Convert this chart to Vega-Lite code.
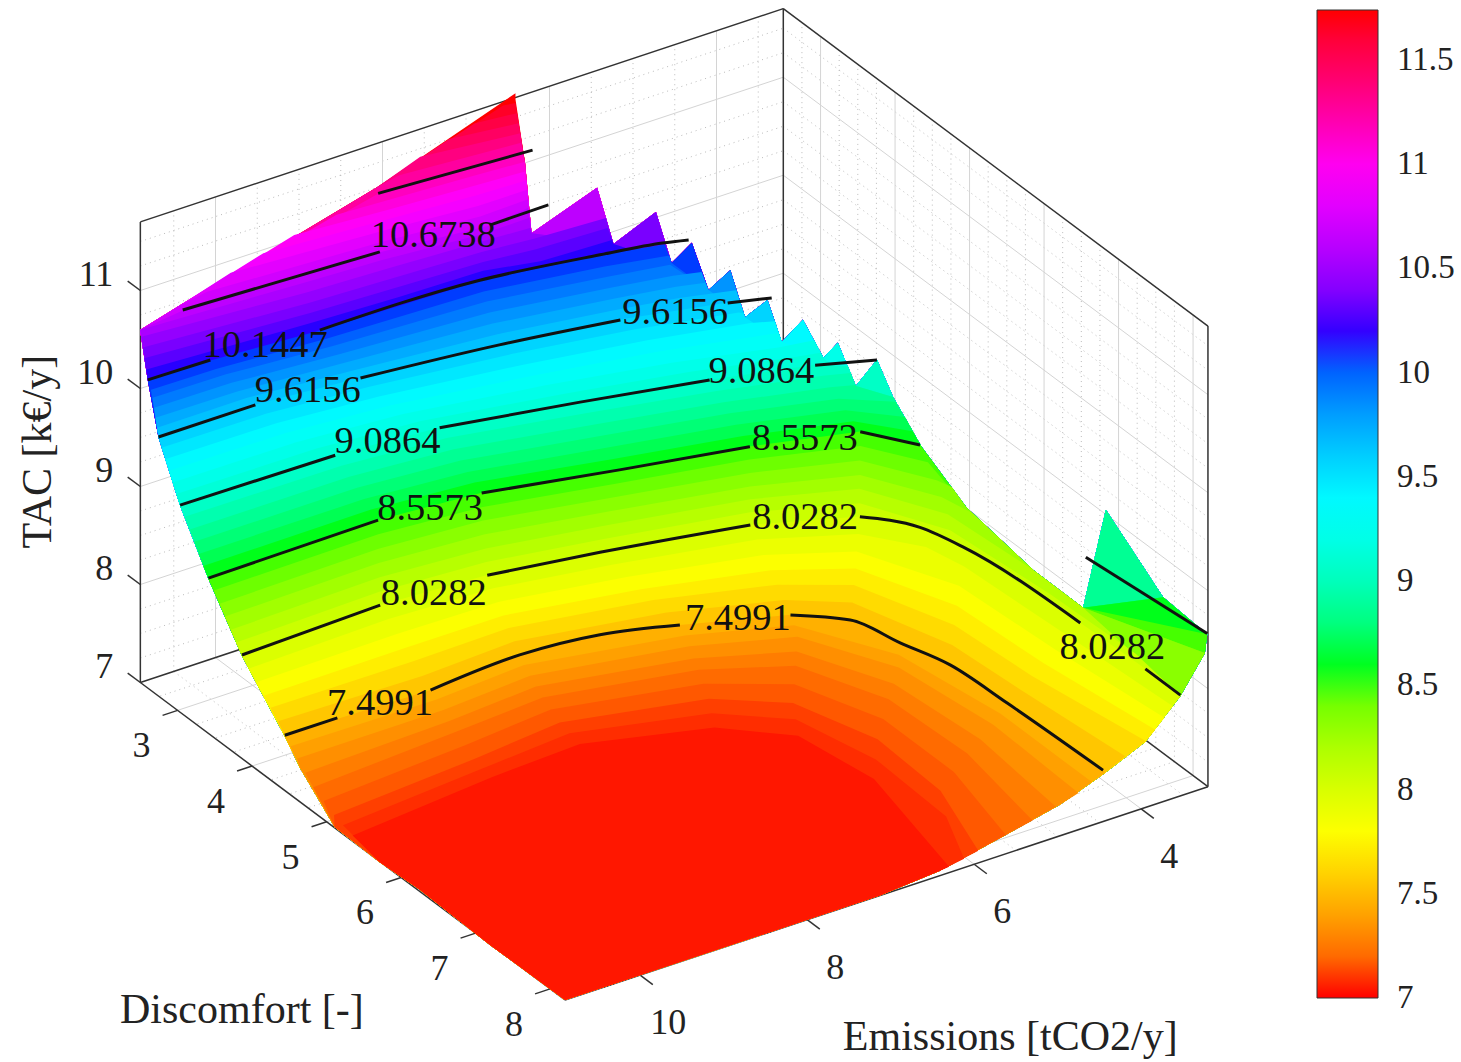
{"$schema":"https://vega.github.io/schema/vega-lite/v6.json","width":1461,"height":1062,"autosize":{"type":"none"},"padding":0,"background":"white","config":{"view":{"stroke":null}},
"datasets":{
"surface":[
{"L":11.8,"E":6.47,"D":2.57},
{"L":11.7,"E":6.6,"D":2.55},{"L":11.7,"E":6.47,"D":2.57},
{"L":11.6,"E":6.92,"D":2.53},{"L":11.6,"E":6.46,"D":2.58},
{"L":11.5,"E":7.2,"D":2.5},{"L":11.5,"E":6.45,"D":2.59},
{"L":11.4,"E":7.53,"D":2.48},{"L":11.4,"E":6.44,"D":2.6},
{"L":11.3,"E":7.8,"D":2.5},{"L":11.3,"E":6.43,"D":2.6},
{"L":11.2,"E":8.07,"D":2.52},{"L":11.2,"E":6.42,"D":2.61},
{"L":11.11,"E":8.55,"D":2.5},{"L":11.11,"E":8,"D":2.53},{"L":11.11,"E":7,"D":2.58},{"L":11.11,"E":6.4,"D":2.62},
{"L":11.02,"E":9.03,"D":2.47},{"L":11.02,"E":8,"D":2.54},{"L":11.02,"E":7,"D":2.6},{"L":11.02,"E":6.41,"D":2.63},
{"L":10.94,"E":9.4,"D":2.47},{"L":10.94,"E":8,"D":2.56},{"L":10.94,"E":7,"D":2.63},{"L":10.94,"E":6.41,"D":2.65},
{"L":10.85,"E":9.79,"D":2.47},{"L":10.85,"E":8,"D":2.58},{"L":10.85,"E":7,"D":2.66},{"L":10.85,"E":6.41,"D":2.66},
{"L":10.76,"E":10.1,"D":2.5},{"L":10.76,"E":8.05,"D":2.6},{"L":10.76,"E":7,"D":2.69},{"L":10.76,"E":6.41,"D":2.67},
{"L":10.67,"E":10.41,"D":2.52},{"L":10.67,"E":8.13,"D":2.61},{"L":10.67,"E":6.92,"D":2.73},{"L":10.67,"E":6.41,"D":2.67},
{"L":10.59,"E":10.6,"D":2.5},{"L":10.59,"E":9,"D":2.58},{"L":10.59,"E":8.1,"D":2.62},{"L":10.59,"E":7,"D":2.71},{"L":10.59,"E":6.42,"D":2.7},
{"L":10.5,"E":10.86,"D":2.47},{"L":10.5,"E":9,"D":2.6},{"L":10.5,"E":8,"D":2.64},{"L":10.5,"E":7,"D":2.69},{"L":10.5,"E":6.43,"D":2.72},
{"L":10.41,"E":10.87,"D":2.5},{"L":10.41,"E":9,"D":2.63},{"L":10.41,"E":8,"D":2.67},{"L":10.41,"E":7,"D":2.71},{"L":10.41,"E":6.42,"D":2.76},{"L":10.41,"E":5.59,"D":2.8},
{"L":10.32,"E":10.88,"D":2.53},{"L":10.32,"E":9,"D":2.65},{"L":10.32,"E":8,"D":2.69},{"L":10.32,"E":7,"D":2.73},{"L":10.32,"E":6.42,"D":2.79},{"L":10.32,"E":5.59,"D":2.82},
{"L":10.23,"E":10.89,"D":2.57},{"L":10.23,"E":9,"D":2.67},{"L":10.23,"E":8,"D":2.71},{"L":10.23,"E":7,"D":2.73},{"L":10.23,"E":6.42,"D":2.85},{"L":10.23,"E":5.59,"D":2.88},
{"L":10.14,"E":10.9,"D":2.6},{"L":10.14,"E":10.16,"D":2.61},{"L":10.14,"E":8.92,"D":2.69},{"L":10.14,"E":7.04,"D":2.73},{"L":10.14,"E":5.76,"D":2.91},{"L":10.14,"E":5.1,"D":3.04},
{"L":10.05,"E":10.88,"D":2.62},{"L":10.05,"E":10.1,"D":2.63},{"L":10.05,"E":8.85,"D":2.71},{"L":10.05,"E":7.03,"D":2.77},{"L":10.05,"E":5.75,"D":2.96},{"L":10.05,"E":5.09,"D":3.09},
{"L":9.97,"E":10.87,"D":2.63},{"L":9.97,"E":10,"D":2.64},{"L":9.97,"E":8.8,"D":2.73},{"L":9.97,"E":7.03,"D":2.81},{"L":9.97,"E":5.75,"D":3},{"L":9.97,"E":5.1,"D":3.11},
{"L":9.88,"E":10.87,"D":2.65},{"L":9.88,"E":9.95,"D":2.66},{"L":9.88,"E":8.72,"D":2.75},{"L":9.88,"E":7.03,"D":2.85},{"L":9.88,"E":5.75,"D":3.04},{"L":9.88,"E":5.1,"D":3.15},{"L":9.88,"E":4.82,"D":3.22},
{"L":9.79,"E":10.87,"D":2.67},{"L":9.79,"E":9.9,"D":2.68},{"L":9.79,"E":8.65,"D":2.77},{"L":9.79,"E":7.03,"D":2.89},{"L":9.79,"E":5.75,"D":3.08},{"L":9.79,"E":5.1,"D":3.19},{"L":9.79,"E":4.81,"D":3.26},
{"L":9.7,"E":10.87,"D":2.69},{"L":9.7,"E":9.8,"D":2.69},{"L":9.7,"E":8.6,"D":2.79},{"L":9.7,"E":7.02,"D":2.93},{"L":9.7,"E":5.75,"D":3.12},{"L":9.7,"E":5.1,"D":3.23},{"L":9.7,"E":4.54,"D":3.37},
{"L":9.62,"E":10.87,"D":2.71},{"L":9.62,"E":9.71,"D":2.71},{"L":9.62,"E":8.54,"D":2.81},{"L":9.62,"E":7.02,"D":2.97},{"L":9.62,"E":5.74,"D":3.16},{"L":9.62,"E":4.66,"D":3.39},{"L":9.62,"E":4.54,"D":3.42},
{"L":9.53,"E":10.87,"D":2.75},{"L":9.53,"E":9.63,"D":2.76},{"L":9.53,"E":8.47,"D":2.85},{"L":9.53,"E":6.93,"D":3.03},{"L":9.53,"E":5.64,"D":3.23},{"L":9.53,"E":4.58,"D":3.45},{"L":9.53,"E":4.55,"D":3.48},
{"L":9.44,"E":10.87,"D":2.8},{"L":9.44,"E":9.55,"D":2.81},{"L":9.44,"E":8.4,"D":2.9},{"L":9.44,"E":6.85,"D":3.1},{"L":9.44,"E":5.55,"D":3.31},{"L":9.44,"E":4.5,"D":3.52},{"L":9.44,"E":4.28,"D":3.6},
{"L":9.35,"E":10.87,"D":2.85},{"L":9.35,"E":9.47,"D":2.86},{"L":9.35,"E":8.3,"D":2.95},{"L":9.35,"E":6.77,"D":3.17},{"L":9.35,"E":5.47,"D":3.39},{"L":9.35,"E":4.42,"D":3.62},{"L":9.35,"E":4.28,"D":3.65},
{"L":9.26,"E":10.87,"D":2.9},{"L":9.26,"E":9.4,"D":2.91},{"L":9.26,"E":8.2,"D":3},{"L":9.26,"E":6.7,"D":3.23},{"L":9.26,"E":5.4,"D":3.47},{"L":9.26,"E":4.35,"D":3.72},{"L":9.26,"E":3.97,"D":3.78},
{"L":9.17,"E":10.87,"D":2.95},{"L":9.17,"E":9.2,"D":2.96},{"L":9.17,"E":8.03,"D":3.05},{"L":9.17,"E":6.55,"D":3.3},{"L":9.17,"E":5.25,"D":3.55},{"L":9.17,"E":4.2,"D":3.8},{"L":9.17,"E":3.96,"D":3.85},
{"L":9.09,"E":10.87,"D":3},{"L":9.09,"E":9.03,"D":3.02},{"L":9.09,"E":7.86,"D":3.11},{"L":9.09,"E":6.41,"D":3.37},{"L":9.09,"E":5.09,"D":3.63},{"L":9.09,"E":4.05,"D":3.88},{"L":9.09,"E":3.79,"D":4.03},
{"L":9,"E":10.87,"D":3.06},{"L":9,"E":9,"D":3.07},{"L":9,"E":7.82,"D":3.16},{"L":9,"E":6.38,"D":3.43},{"L":9,"E":5.06,"D":3.69},{"L":9,"E":4.01,"D":3.94},{"L":9,"E":3.75,"D":4.02},
{"L":8.91,"E":10.87,"D":3.13},{"L":8.91,"E":8.96,"D":3.13},{"L":8.91,"E":7.79,"D":3.22},{"L":8.91,"E":6.36,"D":3.49},{"L":8.91,"E":5.03,"D":3.75},{"L":8.91,"E":3.98,"D":4},{"L":8.91,"E":3.74,"D":4.08},
{"L":8.82,"E":10.87,"D":3.19},{"L":8.82,"E":8.92,"D":3.19},{"L":8.82,"E":7.76,"D":3.28},{"L":8.82,"E":6.33,"D":3.55},{"L":8.82,"E":5,"D":3.8},{"L":8.82,"E":3.94,"D":4.07},{"L":8.82,"E":3.5,"D":4.34},
{"L":8.73,"E":10.87,"D":3.25},{"L":8.73,"E":8.89,"D":3.25},{"L":8.73,"E":7.73,"D":3.34},{"L":8.73,"E":6.31,"D":3.61},{"L":8.73,"E":4.98,"D":3.86},{"L":8.73,"E":3.91,"D":4.13},{"L":8.73,"E":3.49,"D":4.46},
{"L":8.64,"E":10.87,"D":3.31},{"L":8.64,"E":8.85,"D":3.3},{"L":8.64,"E":7.69,"D":3.39},{"L":8.64,"E":6.28,"D":3.67},{"L":8.64,"E":4.95,"D":3.92},{"L":8.64,"E":3.87,"D":4.19},{"L":8.64,"E":3.49,"D":4.56},
{"L":8.56,"E":10.87,"D":3.38},{"L":8.56,"E":8.82,"D":3.36},{"L":8.56,"E":7.66,"D":3.45},{"L":8.56,"E":6.26,"D":3.73},{"L":8.56,"E":4.92,"D":3.98},{"L":8.56,"E":3.84,"D":4.25},{"L":8.56,"E":3.49,"D":4.66},
{"L":8.47,"E":10.87,"D":3.45},{"L":8.47,"E":8.88,"D":3.43},{"L":8.47,"E":7.71,"D":3.52},{"L":8.47,"E":6.35,"D":3.78},{"L":8.47,"E":4.97,"D":4.03},{"L":8.47,"E":3.9,"D":4.32},{"L":8.47,"E":3.52,"D":4.8},
{"L":8.38,"E":10.87,"D":3.53},{"L":8.38,"E":8.94,"D":3.5},{"L":8.38,"E":7.76,"D":3.58},{"L":8.38,"E":6.43,"D":3.83},{"L":8.38,"E":5.02,"D":4.09},{"L":8.38,"E":3.97,"D":4.39},{"L":8.38,"E":3.55,"D":4.95},{"L":8.38,"E":3.5,"D":5.1},
{"L":8.29,"E":10.87,"D":3.6},{"L":8.29,"E":9,"D":3.57},{"L":8.29,"E":7.8,"D":3.65},{"L":8.29,"E":6.51,"D":3.88},{"L":8.29,"E":5.07,"D":4.15},{"L":8.29,"E":4.03,"D":4.46},{"L":8.29,"E":3.6,"D":5.07},{"L":8.29,"E":3.52,"D":5.4},
{"L":8.2,"E":10.87,"D":3.68},{"L":8.2,"E":9.05,"D":3.64},{"L":8.2,"E":7.85,"D":3.72},{"L":8.2,"E":6.59,"D":3.93},{"L":8.2,"E":5.11,"D":4.2},{"L":8.2,"E":4.09,"D":4.52},{"L":8.2,"E":3.64,"D":5.2},{"L":8.2,"E":3.55,"D":6.25},
{"L":8.11,"E":10.87,"D":3.75},{"L":8.11,"E":9.11,"D":3.71},{"L":8.11,"E":7.9,"D":3.78},{"L":8.11,"E":6.67,"D":3.98},{"L":8.11,"E":5.16,"D":4.25},{"L":8.11,"E":4.15,"D":4.59},{"L":8.11,"E":3.7,"D":5.3},{"L":8.11,"E":3.58,"D":6.5},{"L":8.11,"E":3.53,"D":7.6},
{"L":8.03,"E":10.87,"D":3.83},{"L":8.03,"E":9.17,"D":3.78},{"L":8.03,"E":7.95,"D":3.85},{"L":8.03,"E":6.76,"D":4.03},{"L":8.03,"E":5.21,"D":4.31},{"L":8.03,"E":4.21,"D":4.66},{"L":8.03,"E":3.83,"D":5.04},{"L":8.03,"E":3.69,"D":5.46},{"L":8.03,"E":3.56,"D":6.89},{"L":8.03,"E":3.53,"D":7.73},{"L":8.03,"E":3.53,"D":8.2},
{"L":7.94,"E":10.87,"D":3.92},{"L":7.94,"E":9.16,"D":3.88},{"L":7.94,"E":7.95,"D":3.93},{"L":7.94,"E":6.69,"D":4.13},{"L":7.94,"E":5.22,"D":4.41},{"L":7.94,"E":4.32,"D":4.76},{"L":7.94,"E":3.9,"D":5.2},{"L":7.94,"E":3.8,"D":5.6},{"L":7.94,"E":3.71,"D":6.9},{"L":7.94,"E":3.62,"D":8.2},
{"L":7.85,"E":10.86,"D":4.01},{"L":7.85,"E":9.15,"D":3.99},{"L":7.85,"E":7.96,"D":4.01},{"L":7.85,"E":6.62,"D":4.23},{"L":7.85,"E":5.24,"D":4.52},{"L":7.85,"E":4.43,"D":4.86},{"L":7.85,"E":3.96,"D":5.71},{"L":7.85,"E":3.87,"D":6.9},{"L":7.85,"E":3.72,"D":8.2},
{"L":7.76,"E":10.85,"D":4.1},{"L":7.76,"E":9.15,"D":4.09},{"L":7.76,"E":7.97,"D":4.09},{"L":7.76,"E":6.54,"D":4.33},{"L":7.76,"E":5.25,"D":4.63},{"L":7.76,"E":4.53,"D":4.96},{"L":7.76,"E":4.1,"D":5.84},{"L":7.76,"E":4.02,"D":6.91},{"L":7.76,"E":3.83,"D":8.2},
{"L":7.68,"E":10.84,"D":4.18},{"L":7.68,"E":9.14,"D":4.19},{"L":7.68,"E":7.98,"D":4.17},{"L":7.68,"E":6.47,"D":4.42},{"L":7.68,"E":5.27,"D":4.74},{"L":7.68,"E":4.64,"D":5.06},{"L":7.68,"E":4.25,"D":5.97},{"L":7.68,"E":4.17,"D":6.92},{"L":7.68,"E":3.95,"D":8.2},
{"L":7.59,"E":10.83,"D":4.27},{"L":7.59,"E":9.13,"D":4.3},{"L":7.59,"E":7.98,"D":4.25},{"L":7.59,"E":6.4,"D":4.52},{"L":7.59,"E":5.28,"D":4.85},{"L":7.59,"E":4.75,"D":5.16},{"L":7.59,"E":4.39,"D":6.1},{"L":7.59,"E":4.32,"D":6.93},{"L":7.59,"E":4.19,"D":8.2},
{"L":7.5,"E":10.83,"D":4.36},{"L":7.5,"E":9.12,"D":4.4},{"L":7.5,"E":7.99,"D":4.33},{"L":7.5,"E":7.1,"D":4.41},{"L":7.5,"E":6.33,"D":4.62},{"L":7.5,"E":5.3,"D":4.95},{"L":7.5,"E":4.86,"D":5.26},{"L":7.5,"E":4.7,"D":5.75},{"L":7.5,"E":4.53,"D":6.23},{"L":7.5,"E":4.48,"D":6.94},{"L":7.5,"E":4.43,"D":8.2},
{"L":7.44,"E":10.84,"D":4.45},{"L":7.44,"E":9.11,"D":4.47},{"L":7.44,"E":8,"D":4.4},{"L":7.44,"E":6.34,"D":4.7},{"L":7.44,"E":5.32,"D":5.02},{"L":7.44,"E":4.78,"D":5.82},{"L":7.44,"E":4.59,"D":6.97},{"L":7.44,"E":4.59,"D":8.2},
{"L":7.375,"E":10.85,"D":4.55},{"L":7.375,"E":9.1,"D":4.55},{"L":7.375,"E":8,"D":4.48},{"L":7.375,"E":6.35,"D":4.77},{"L":7.375,"E":5.35,"D":5.1},{"L":7.375,"E":4.85,"D":5.9},{"L":7.375,"E":4.7,"D":7},{"L":7.375,"E":4.75,"D":8.2},
{"L":7.31,"E":10.87,"D":4.68},{"L":7.31,"E":9.1,"D":4.63},{"L":7.31,"E":8,"D":4.56},{"L":7.31,"E":6.38,"D":4.86},{"L":7.31,"E":5.45,"D":5.2},{"L":7.31,"E":5,"D":6},{"L":7.31,"E":4.9,"D":7.05},{"L":7.31,"E":5.02,"D":8.2},
{"L":7.25,"E":10.9,"D":4.82},{"L":7.25,"E":9.1,"D":4.72},{"L":7.25,"E":8,"D":4.65},{"L":7.25,"E":6.4,"D":4.95},{"L":7.25,"E":5.55,"D":5.3},{"L":7.25,"E":5.15,"D":6.1},{"L":7.25,"E":5.1,"D":7.1},{"L":7.25,"E":5.3,"D":8.2},
{"L":7.19,"E":10.9,"D":4.96},{"L":7.19,"E":9.1,"D":4.85},{"L":7.19,"E":8,"D":4.76},{"L":7.19,"E":6.45,"D":5.07},{"L":7.19,"E":5.7,"D":5.45},{"L":7.19,"E":5.35,"D":6.25},{"L":7.19,"E":5.35,"D":7.2},{"L":7.19,"E":5.62,"D":8.2},
{"L":7.125,"E":10.9,"D":5.1},{"L":7.125,"E":9.1,"D":4.98},{"L":7.125,"E":8,"D":4.88},{"L":7.125,"E":6.5,"D":5.2},{"L":7.125,"E":5.85,"D":5.6},{"L":7.125,"E":5.55,"D":6.4},{"L":7.125,"E":5.6,"D":7.3},{"L":7.125,"E":5.95,"D":8.2},
{"L":7.09,"E":10.9,"D":5.22},{"L":7.09,"E":9.1,"D":5.09},{"L":7.09,"E":8,"D":5.01},{"L":7.09,"E":6.6,"D":5.35},{"L":7.09,"E":5.97,"D":5.77},{"L":7.09,"E":5.75,"D":6.6},{"L":7.09,"E":5.8,"D":7.6},{"L":7.09,"E":6.12,"D":8.2},
{"L":7.06,"E":10.9,"D":5.35},{"L":7.06,"E":9.1,"D":5.2},{"L":7.06,"E":8,"D":5.15},{"L":7.06,"E":6.7,"D":5.5},{"L":7.06,"E":6.1,"D":5.95},{"L":7.06,"E":5.95,"D":6.8},{"L":7.06,"E":6.3,"D":8.2},
{"E":6.47,"D":2.57,"T":11.74},{"E":6.4,"D":2.62,"T":11.1},{"E":6.42,"D":2.73,"T":10.45},{"E":5.59,"D":2.68,"T":10.65},{"E":5.59,"D":2.9,"T":10.2},{"E":5.1,"D":2.92,"T":10.4},{"E":5.09,"D":3.12,"T":9.99},{"E":4.84,"D":3.11,"T":10.12},{"E":4.8,"D":3.29,"T":9.73},{"E":4.53,"D":3.28,"T":9.85},{"E":4.55,"D":3.5,"T":9.5},{"E":4.29,"D":3.51,"T":9.61},{"E":4.28,"D":3.69,"T":9.28},{"E":4,"D":3.66,"T":9.41},{"E":3.95,"D":3.88,"T":9.13},{"E":3.77,"D":3.87,"T":9.23},{"E":3.74,"D":4.08,"T":8.9},{"E":3.47,"D":4.06,"T":9.08},{"E":3.5,"D":4.31,"T":8.85},{"E":3.49,"D":4.68,"T":8.55},{"E":3.52,"D":5.32,"T":8.3},{"E":3.55,"D":6.25,"T":8.2},{"E":3.5,"D":6.86,"T":8.15},{"E":3.04,"D":6.65,"T":8.9},{"E":3.21,"D":7.61,"T":8.6},{"E":3.2,"D":8.19,"T":8.55},{"E":3.21,"D":8.17,"T":8.35},{"E":3.53,"D":8.2,"T":8.02},{"E":3.95,"D":8.2,"T":7.67},{"E":4.43,"D":8.2,"T":7.49},{"E":4.97,"D":8.2,"T":7.32},{"E":5.69,"D":8.2,"T":7.18},{"E":6.41,"D":8.2,"T":7.05},{"E":7.13,"D":8.2,"T":7},{"E":10.9,"D":8.2,"T":7},{"E":10.91,"D":7.21,"T":7},{"E":10.88,"D":6.23,"T":7},{"E":10.94,"D":5.76,"T":7.03},{"E":11,"D":5.22,"T":7.1},{"E":10.88,"D":4.62,"T":7.33},{"E":10.83,"D":4.36,"T":7.49},{"E":10.87,"D":3.83,"T":8.02},{"E":10.87,"D":3.38,"T":8.55},{"E":10.87,"D":3,"T":9.08},{"E":10.87,"D":2.71,"T":9.61},{"E":10.9,"D":2.6,"T":10.14},{"E":10.85,"D":2.44,"T":10.55},{"E":10.41,"D":2.5,"T":10.72},{"E":8.07,"D":2.5,"T":11.25}
],
"contours":[
{"c":"a1","T":7.4991,"E":10.83,"D":4.36},{"c":"a1","T":7.4991,"E":10.2,"D":4.36},
{"c":"a2","T":7.4991,"E":9.12,"D":4.4},{"c":"a2","T":7.4991,"E":7.99,"D":4.33},{"c":"a2","T":7.4991,"E":7.1,"D":4.41},{"c":"a2","T":7.4991,"E":6.33,"D":4.62},
{"c":"a3","T":7.4991,"E":5.3,"D":4.95},{"c":"a3","T":7.4991,"E":4.86,"D":5.26},{"c":"a3","T":7.4991,"E":4.7,"D":5.75},{"c":"a3","T":7.4991,"E":4.53,"D":6.23},{"c":"a3","T":7.4991,"E":4.48,"D":6.94},{"c":"a3","T":7.4991,"E":4.43,"D":8.17},
{"c":"b1","T":8.0282,"E":10.87,"D":3.83},{"c":"b1","T":8.0282,"E":9.17,"D":3.78},
{"c":"b2","T":8.0282,"E":7.95,"D":3.85},{"c":"b2","T":8.0282,"E":6.76,"D":4.03},{"c":"b2","T":8.0282,"E":5.21,"D":4.31},
{"c":"b3","T":8.0282,"E":4.21,"D":4.66},{"c":"b3","T":8.0282,"E":3.83,"D":5.04},{"c":"b3","T":8.0282,"E":3.69,"D":5.46},{"c":"b3","T":8.0282,"E":3.56,"D":6.89},
{"c":"b4","T":8.0282,"E":3.53,"D":7.73},{"c":"b4","T":8.0282,"E":3.53,"D":8.2},
{"c":"d1","T":8.5573,"E":10.87,"D":3.38},{"c":"d1","T":8.5573,"E":8.82,"D":3.36},
{"c":"d2","T":8.5573,"E":7.66,"D":3.45},{"c":"d2","T":8.5573,"E":6.26,"D":3.73},{"c":"d2","T":8.5573,"E":4.92,"D":3.98},
{"c":"d3","T":8.5573,"E":3.84,"D":4.25},{"c":"d3","T":8.5573,"E":3.49,"D":4.66},
{"c":"d4","T":8.5573,"E":3.36,"D":6.74},{"c":"d4","T":8.5573,"E":3.2,"D":8.19},
{"c":"e1","T":9.0864,"E":10.87,"D":3},{"c":"e1","T":9.0864,"E":9.03,"D":3.02},
{"c":"e2","T":9.0864,"E":7.86,"D":3.11},{"c":"e2","T":9.0864,"E":6.41,"D":3.37},{"c":"e2","T":9.0864,"E":5.09,"D":3.63},
{"c":"e3","T":9.0864,"E":4.05,"D":3.88},{"c":"e3","T":9.0864,"E":3.48,"D":4.07},
{"c":"f1","T":9.6156,"E":10.87,"D":2.71},{"c":"f1","T":9.6156,"E":9.71,"D":2.71},
{"c":"f2","T":9.6156,"E":8.54,"D":2.81},{"c":"f2","T":9.6156,"E":7.02,"D":2.97},{"c":"f2","T":9.6156,"E":5.74,"D":3.16},
{"c":"f3","T":9.6156,"E":4.66,"D":3.39},{"c":"f3","T":9.6156,"E":4.24,"D":3.51},
{"c":"g1","T":10.1447,"E":10.9,"D":2.6},{"c":"g1","T":10.1447,"E":10.16,"D":2.61},
{"c":"g2","T":10.1447,"E":8.92,"D":2.69},{"c":"g2","T":10.1447,"E":7.04,"D":2.73},{"c":"g2","T":10.1447,"E":5.76,"D":2.91},{"c":"g2","T":10.1447,"E":5.11,"D":3.02},{"c":"g2","T":10.1447,"E":4.86,"D":3.09},
{"c":"h1","T":10.6738,"E":10.41,"D":2.52},{"c":"h1","T":10.6738,"E":8.13,"D":2.61},
{"c":"h2","T":10.6738,"E":6.92,"D":2.73},{"c":"h2","T":10.6738,"E":6.21,"D":2.72},
{"c":"i1","T":11.2029,"E":8.07,"D":2.52},{"c":"i1","T":11.2029,"E":6.31,"D":2.62}
],
"texts":[
{"k":"c","t":"10.6738","T":10.6738,"E":7.5,"D":2.62},{"k":"c","t":"10.1447","T":10.1447,"E":9.54,"D":2.65},{"k":"c","t":"9.6156","T":9.6156,"E":9.11,"D":2.74},{"k":"c","t":"9.6156","T":9.6156,"E":5.2,"D":3.29},{"k":"c","t":"9.0864","T":9.0864,"E":8.44,"D":3.06},{"k":"c","t":"9.0864","T":9.0864,"E":4.56,"D":3.73},{"k":"c","t":"8.5573","T":8.5573,"E":8.25,"D":3.42},{"k":"c","t":"8.5573","T":8.5573,"E":4.37,"D":4.1},{"k":"c","t":"8.0282","T":8.0282,"E":8.59,"D":3.85},{"k":"c","t":"8.0282","T":8.0282,"E":4.67,"D":4.44},{"k":"c","t":"8.0282","T":8.0282,"E":3.56,"D":7.32},{"k":"c","t":"7.4991","T":7.4991,"E":9.68,"D":4.35},{"k":"c","t":"7.4991","T":7.4991,"E":5.77,"D":4.77},
{"k":"T","t":"7","T":7,"E":10.9,"D":2.5},{"k":"T","t":"8","T":8,"E":10.9,"D":2.5},{"k":"T","t":"9","T":9,"E":10.9,"D":2.5},{"k":"T","t":"10","T":10,"E":10.9,"D":2.5},{"k":"T","t":"11","T":11,"E":10.9,"D":2.5},
{"k":"D","t":"3","T":7,"E":10.9,"D":3},{"k":"D","t":"4","T":7,"E":10.9,"D":4},{"k":"D","t":"5","T":7,"E":10.9,"D":5},{"k":"D","t":"6","T":7,"E":10.9,"D":6},{"k":"D","t":"7","T":7,"E":10.9,"D":7},{"k":"D","t":"8","T":7,"E":10.9,"D":8},
{"k":"E","t":"4","T":7,"E":4,"D":8.2},{"k":"E","t":"6","T":7,"E":6,"D":8.2},{"k":"E","t":"8","T":7,"E":8,"D":8.2},{"k":"E","t":"10","T":7,"E":10,"D":8.2},
{"k":"x","t":"Discomfort [-]","T":7,"E":13.69,"D":6.99},{"k":"x","t":"Emissions [tCO2/y]","T":7,"E":7.62,"D":10.5},
{"k":"z","t":"TAC [k€/y]","T":9.3,"E":11.69,"D":2.01}
],
"grid":[
{"m":0,"E":null,"D":2.5,"T":7,"E2":null,"D2":2.5,"T2":11.7,"v":[4,6,8,10]},
{"m":0,"E":3.2,"D":null,"T":7,"E2":3.2,"D2":null,"T2":11.7,"v":[3,4,5,6,7,8]},
{"m":0,"E":10.9,"D":2.5,"T":null,"E2":3.2,"D2":2.5,"T2":null,"v":[8,9,10,11]},
{"m":0,"E":3.2,"D":2.5,"T":null,"E2":3.2,"D2":8.2,"T2":null,"v":[8,9,10,11]},
{"m":0,"E":null,"D":2.5,"T":7,"E2":null,"D2":8.2,"T2":7,"v":[4,6,8,10]},
{"m":0,"E":3.2,"D":null,"T":7,"E2":10.9,"D2":null,"T2":7,"v":[3,4,5,6,7,8]},
{"m":1,"E":null,"D":2.5,"T":7,"E2":null,"D2":2.5,"T2":11.7,"v":[3.5,4.5,5,5.5,6.5,7,7.5,8.5,9,9.5,10.5]},
{"m":1,"E":3.2,"D":null,"T":7,"E2":3.2,"D2":null,"T2":11.7,"v":[2.75,3.25,3.5,3.75,4.25,4.5,4.75,5.25,5.5,5.75,6.25,6.5,6.75,7.25,7.5,7.75]},
{"m":1,"E":10.9,"D":2.5,"T":null,"E2":3.2,"D2":2.5,"T2":null,"v":[7.25,7.5,7.75,8.25,8.5,8.75,9.25,9.5,9.75,10.25,10.5,10.75,11.25,11.5]},
{"m":1,"E":3.2,"D":2.5,"T":null,"E2":3.2,"D2":8.2,"T2":null,"v":[7.25,7.5,7.75,8.25,8.5,8.75,9.25,9.5,9.75,10.25,10.5,10.75,11.25,11.5]},
{"m":1,"E":null,"D":2.5,"T":7,"E2":null,"D2":8.2,"T2":7,"v":[3.5,4.5,5,5.5,6.5,7,7.5,8.5,9,9.5,10.5]},
{"m":1,"E":3.2,"D":null,"T":7,"E2":10.9,"D2":null,"T2":7,"v":[2.75,3.25,3.5,3.75,4.25,4.5,4.75,5.25,5.5,5.75,6.25,6.5,6.75,7.25,7.5,7.75]},
{"m":2,"E":10.9,"D":2.5,"T":7,"E2":10.9,"D2":2.5,"T2":11.7,"v":[0]},
{"m":2,"E":3.2,"D":2.5,"T":7,"E2":3.2,"D2":2.5,"T2":11.7,"v":[0]},
{"m":2,"E":3.2,"D":8.2,"T":7,"E2":3.2,"D2":8.2,"T2":11.7,"v":[0]},
{"m":2,"E":10.9,"D":2.5,"T":11.7,"E2":3.2,"D2":2.5,"T2":11.7,"v":[0]},
{"m":2,"E":3.2,"D":2.5,"T":11.7,"E2":3.2,"D2":8.2,"T2":11.7,"v":[0]},
{"m":2,"E":10.9,"D":2.5,"T":7,"E2":10.9,"D2":8.2,"T2":7,"v":[0]},
{"m":2,"E":10.9,"D":8.2,"T":7,"E2":3.2,"D2":8.2,"T2":7,"v":[0]},
{"m":2,"E":10.9,"D":2.5,"T":7,"E2":3.2,"D2":2.5,"T2":7,"v":[0]},
{"m":2,"E":3.2,"D":2.5,"T":7,"E2":3.2,"D2":8.2,"T2":7,"v":[0]},
{"m":2,"E":10.9,"D":2.5,"T":null,"E2":10.9,"D2":2.33,"T2":null,"v":[7,8,9,10,11]},
{"m":2,"E":10.9,"D":null,"T":7,"E2":11.08,"D2":null,"T2":7,"v":[3,4,5,6,7,8]},
{"m":2,"E":null,"D":8.2,"T":7,"E2":null,"D2":8.37,"T2":7,"v":[4,6,8,10]}
],
"cbar":[{"v":7.5},{"v":8},{"v":8.5},{"v":9},{"v":9.5},{"v":10},{"v":10.5},{"v":11},{"v":11.5}]
},
"encoding":{"x":{"field":"sx","type":"quantitative","scale":{"domain":[0,1461],"nice":false,"zero":false},"axis":null},"y":{"field":"sy","type":"quantitative","scale":{"domain":[1062,0],"nice":false,"zero":false},"axis":null}},
"layer":[
{"data":{"name":"grid"},"transform":[{"filter":"datum.m==1"},{"flatten":["v"]},{"calculate":"565+83.5*(10.9-(datum.E===null?datum.v:datum.E))-74.5*(8.2-(datum.D===null?datum.v:datum.D))","as":"sx"},{"calculate":"1000-27.7*(10.9-(datum.E===null?datum.v:datum.E))-55.7*(8.2-(datum.D===null?datum.v:datum.D))-98*((datum.T===null?datum.v:datum.T)-7)","as":"sy"},{"calculate":"565+83.5*(10.9-(datum.E2===null?datum.v:datum.E2))-74.5*(8.2-(datum.D2===null?datum.v:datum.D2))","as":"sx2"},{"calculate":"1000-27.7*(10.9-(datum.E2===null?datum.v:datum.E2))-55.7*(8.2-(datum.D2===null?datum.v:datum.D2))-98*((datum.T2===null?datum.v:datum.T2)-7)","as":"sy2"}],"mark":{"type":"rule","color":"#aaaaaa","strokeWidth":1,"strokeDash":[1,4],"opacity":0.8},"encoding":{"x2":{"field":"sx2"},"y2":{"field":"sy2"}}},
{"data":{"name":"grid"},"transform":[{"filter":"datum.m==0"},{"flatten":["v"]},{"calculate":"565+83.5*(10.9-(datum.E===null?datum.v:datum.E))-74.5*(8.2-(datum.D===null?datum.v:datum.D))","as":"sx"},{"calculate":"1000-27.7*(10.9-(datum.E===null?datum.v:datum.E))-55.7*(8.2-(datum.D===null?datum.v:datum.D))-98*((datum.T===null?datum.v:datum.T)-7)","as":"sy"},{"calculate":"565+83.5*(10.9-(datum.E2===null?datum.v:datum.E2))-74.5*(8.2-(datum.D2===null?datum.v:datum.D2))","as":"sx2"},{"calculate":"1000-27.7*(10.9-(datum.E2===null?datum.v:datum.E2))-55.7*(8.2-(datum.D2===null?datum.v:datum.D2))-98*((datum.T2===null?datum.v:datum.T2)-7)","as":"sy2"}],"mark":{"type":"rule","color":"#d4d4d4","strokeWidth":1},"encoding":{"x2":{"field":"sx2"},"y2":{"field":"sy2"}}},
{"data":{"name":"grid"},"transform":[{"filter":"datum.m==2"},{"flatten":["v"]},{"calculate":"565+83.5*(10.9-(datum.E===null?datum.v:datum.E))-74.5*(8.2-(datum.D===null?datum.v:datum.D))","as":"sx"},{"calculate":"1000-27.7*(10.9-(datum.E===null?datum.v:datum.E))-55.7*(8.2-(datum.D===null?datum.v:datum.D))-98*((datum.T===null?datum.v:datum.T)-7)","as":"sy"},{"calculate":"565+83.5*(10.9-(datum.E2===null?datum.v:datum.E2))-74.5*(8.2-(datum.D2===null?datum.v:datum.D2))","as":"sx2"},{"calculate":"1000-27.7*(10.9-(datum.E2===null?datum.v:datum.E2))-55.7*(8.2-(datum.D2===null?datum.v:datum.D2))-98*((datum.T2===null?datum.v:datum.T2)-7)","as":"sy2"}],"mark":{"type":"rule","color":"#333333","strokeWidth":1.5},"encoding":{"x2":{"field":"sx2"},"y2":{"field":"sy2"}}},
{"data":{"name":"surface"},"transform":[{"window":[{"op":"row_number","as":"o"}]},{"calculate":"isValid(datum.L)?[datum.L]:[11.8,11.7,11.6,11.5,11.4,11.3,11.2,11.11,11.02,10.94,10.85,10.76,10.67,10.59,10.5,10.41,10.32,10.23,10.14,10.05,9.97,9.88,9.79,9.7,9.62,9.53,9.44,9.35,9.26,9.17,9.09,9,8.91,8.82,8.73,8.64,8.56,8.47,8.38,8.29,8.2,8.11,8.03,7.94,7.85,7.76,7.68,7.59,7.5,7.44,7.375,7.31,7.25,7.19,7.125,7.09,7.06]","as":"Ls"},{"flatten":["Ls"]},{"calculate":"isValid(datum.T)?datum.T:datum.Ls","as":"TT"},{"filter":"isValid(datum.L)||datum.TT<datum.Ls"},{"calculate":"max(7,datum.Ls-0.045)","as":"TAC"},{"calculate":"565+83.5*(10.9-datum.E)-74.5*(8.2-datum.D)","as":"sx"},{"calculate":"1000-27.7*(10.9-datum.E)-55.7*(8.2-datum.D)-98*(datum.TT-7)","as":"sy"}],"mark":{"type":"line","filled":true,"strokeWidth":0},"encoding":{"detail":{"field":"Ls"},"order":{"field":"o","type":"quantitative"},"fill":{"field":"TAC","type":"quantitative","scale":{"domain":[7,7.79,8.58,9.37,10.16,10.95,11.74],"range":["#ff0000","#ffff00","#00ff00","#00ffff","#0000ff","#ff00ff","#ff0000"],"zero":false,"nice":false,"clamp":true},"legend":{"orient":"none","legendX":1317,"legendY":10,"direction":"vertical","title":null,"padding":0,"gradientLength":988,"gradientThickness":61,"gradientStrokeColor":"#333333","gradientStrokeWidth":1,"values":[7,7.5,8,8.5,9,9.5,10,10.5,11,11.5],"format":"~g","labelFont":"Liberation Serif","labelFontSize":33,"labelColor":"#222222","labelOffset":19,"labelOverlap":false,"encode":{"labels":{"update":{"baseline":{"value":"middle"}}}}}}}},
{"data":{"name":"contours"},"transform":[{"window":[{"op":"row_number","as":"o"}]},{"calculate":"565+83.5*(10.9-datum.E)-74.5*(8.2-datum.D)","as":"sx"},{"calculate":"1000-27.7*(10.9-datum.E)-55.7*(8.2-datum.D)-98*(datum.T-7)","as":"sy"}],"mark":{"type":"line","color":"#111111","strokeWidth":3,"interpolate":"monotone"},"encoding":{"detail":{"field":"c"},"order":{"field":"o","type":"quantitative"}}},
{"data":{"name":"cbar"},"transform":[{"calculate":"1369","as":"sx"},{"calculate":"1378","as":"sx2"},{"calculate":"998-208.7*(datum.v-7)","as":"sy"}],"mark":{"type":"rule","color":"#333333","strokeWidth":1},"encoding":{"x2":{"field":"sx2"}}},
{"data":{"name":"texts"},"transform":[{"filter":"datum.k=='c'"},{"calculate":"565+83.5*(10.9-datum.E)-74.5*(8.2-datum.D)","as":"sx"},{"calculate":"1000-27.7*(10.9-datum.E)-55.7*(8.2-datum.D)-98*(datum.T-7)","as":"sy"}],"mark":{"type":"text","font":"Liberation Serif","fontSize":38.5,"color":"#111111"},"encoding":{"text":{"field":"t"}}},
{"data":{"name":"texts"},"transform":[{"filter":"datum.k=='T'"},{"calculate":"565+83.5*(10.9-datum.E)-74.5*(8.2-datum.D)","as":"sx"},{"calculate":"1000-27.7*(10.9-datum.E)-55.7*(8.2-datum.D)-98*(datum.T-7)","as":"sy"}],"mark":{"type":"text","font":"Liberation Serif","fontSize":36,"color":"#222222","align":"right","dx":-27,"dy":-16},"encoding":{"text":{"field":"t"}}},
{"data":{"name":"texts"},"transform":[{"filter":"datum.k=='D'"},{"calculate":"565+83.5*(10.9-datum.E)-74.5*(8.2-datum.D)","as":"sx"},{"calculate":"1000-27.7*(10.9-datum.E)-55.7*(8.2-datum.D)-98*(datum.T-7)","as":"sy"}],"mark":{"type":"text","font":"Liberation Serif","fontSize":36,"color":"#222222","dx":-36,"dy":36},"encoding":{"text":{"field":"t"}}},
{"data":{"name":"texts"},"transform":[{"filter":"datum.k=='E'"},{"calculate":"565+83.5*(10.9-datum.E)-74.5*(8.2-datum.D)","as":"sx"},{"calculate":"1000-27.7*(10.9-datum.E)-55.7*(8.2-datum.D)-98*(datum.T-7)","as":"sy"}],"mark":{"type":"text","font":"Liberation Serif","fontSize":36,"color":"#222222","dx":28,"dy":48},"encoding":{"text":{"field":"t"}}},
{"data":{"name":"texts"},"transform":[{"filter":"datum.k=='x'"},{"calculate":"565+83.5*(10.9-datum.E)-74.5*(8.2-datum.D)","as":"sx"},{"calculate":"1000-27.7*(10.9-datum.E)-55.7*(8.2-datum.D)-98*(datum.T-7)","as":"sy"}],"mark":{"type":"text","font":"Liberation Serif","fontSize":42,"color":"#222222"},"encoding":{"text":{"field":"t"}}},
{"data":{"name":"texts"},"transform":[{"filter":"datum.k=='z'"},{"calculate":"565+83.5*(10.9-datum.E)-74.5*(8.2-datum.D)","as":"sx"},{"calculate":"1000-27.7*(10.9-datum.E)-55.7*(8.2-datum.D)-98*(datum.T-7)","as":"sy"}],"mark":{"type":"text","font":"Liberation Serif","fontSize":42,"color":"#222222","angle":270},"encoding":{"text":{"field":"t"}}}
]}
